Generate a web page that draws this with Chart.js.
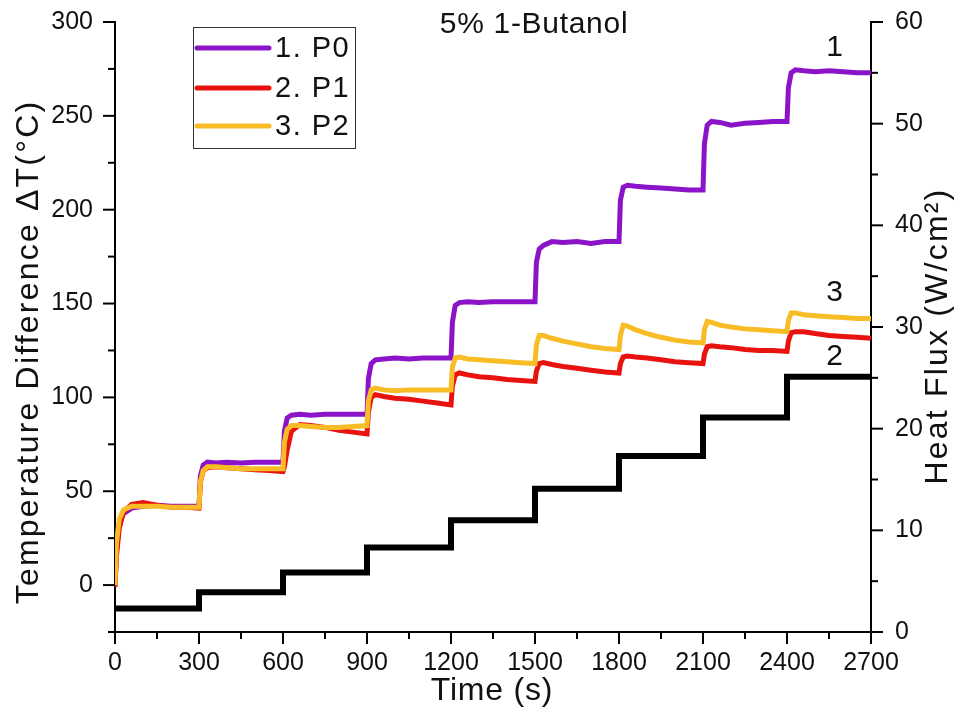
<!DOCTYPE html>
<html>
<head>
<meta charset="utf-8">
<script src="https://cdn.jsdelivr.net/npm/chart.js@4.4.1/dist/chart.umd.min.js"></script>
<style>
  html, body { margin: 0; padding: 0; background: #fff; }
  #chart { display: block; }
</style>
</head>
<body>
<canvas id="chart" width="961" height="724"></canvas>
<script>
// sample times (s) shared by the three temperature traces
const times = [
  0, 5, 15, 30, 60, 100, 150, 200, 250,
  300, 305, 315, 330, 360, 400, 450, 500, 550,
  600, 605, 615, 630, 660, 700, 750, 800, 850,
  900, 905, 915, 930, 960, 1000, 1050, 1100, 1150,
  1200, 1205, 1215, 1230, 1260, 1300, 1350, 1400, 1450,
  1500, 1505, 1515, 1530, 1560, 1600, 1650, 1700, 1750,
  1800, 1805, 1815, 1830, 1860, 1900, 1950, 2000, 2050,
  2100, 2105, 2115, 2130, 2160, 2200, 2250, 2300, 2350,
  2400, 2405, 2415, 2430, 2460, 2500, 2550, 2600, 2650,
  2700
]

// temperature difference, deg C
const p0 = [
  0, 18, 32, 38, 41, 42, 42.5, 42, 42,
  42, 58, 64, 65.5, 65, 65.5, 65, 65.5, 65.5,
  65.5, 82, 89, 90.5, 91, 90.5, 91, 91, 91,
  91, 110, 118, 120, 120.5, 121, 120.5, 121, 121,
  121, 140, 149, 150.5, 151, 150.5, 151, 151, 151,
  151, 172, 179, 181, 183, 182.5, 183, 182, 183,
  183, 205, 212, 213, 212.5, 212, 211.5, 211, 210.5,
  210.5, 235, 245, 247, 246.5, 245, 246, 246.5, 247,
  247, 265, 273, 274.5, 274, 273.5, 274, 273.5, 273,
  273
]
const p1 = [
  -1, 15, 30, 39, 43, 44, 42.5, 41.5, 41.5,
  41, 55, 61, 62.5, 63, 62.5, 62, 61.5, 61,
  60.5, 63, 72, 82, 85.5, 85, 84, 82.5, 81.5,
  80.5, 92, 100, 101.5, 100.5, 99.5, 99, 98, 97,
  96, 106, 112, 113, 112, 111, 110.5, 109.5, 109,
  108.5, 114, 118, 118.5, 117.5, 116.5, 115.5, 114.5, 113.5,
  113, 118, 121.5, 122, 121.5, 121, 120, 119, 118.5,
  118, 123, 127, 127.5, 127, 126.5, 125.5, 125, 125,
  124.5, 130, 134.5, 135, 135, 134, 133, 132.5, 132,
  131.5
]
const p2 = [
  0, 22, 35, 40, 42, 42, 42, 41.5, 41.5,
  41.5, 55, 61, 63, 63, 62.5, 62, 62, 62,
  62, 76, 83, 85, 85, 84.5, 84, 84, 84.5,
  85, 98, 104, 105, 104, 103.5, 104, 104, 104,
  104, 116, 121, 121.5, 120.5, 120, 119.5, 119, 118.5,
  118, 128, 133, 133, 131.5, 130, 128.5, 127, 126,
  125.5, 133, 138.5, 138, 136, 134, 132, 130.5, 129.5,
  129, 136, 140.5, 140, 138.5, 137.5, 136.5, 136, 135.5,
  135, 141, 145, 145, 144, 143.5, 143, 142.5, 142,
  142
]

// applied heat flux, W/cm2, held for 300 s per step
const fluxTimes = [0, 300, 600, 900, 1200, 1500, 1800, 2100, 2400, 2700]
const fluxValues = [2.3, 3.9, 5.85, 8.3, 11.0, 14.1, 17.3, 21.1, 25.1, 25.1]

const seriesLabels = ["1. P0", "2. P1", "3. P2"]
const seriesColors = ["#8b14c9", "#e8130e", "#f7bc26"]

// curve numbers written next to the right end of each trace: [text, time, deltaT]
const curveTags = [["1", 2570, 286.5], ["3", 2570, 156], ["2", 2570, 121.5]]

const FONT = 'Arial, "Liberation Sans", sans-serif'
const toPoints = (xs, ys) => xs.map((x, i) => ({ x: x, y: ys[i] }))

// outward tick marks, long on labelled values
const tickMarks = {
  id: 'tickMarks',
  afterDraw(chart) {
    const ctx = chart.ctx
    const { x, y, y1 } = chart.scales
    ctx.save()
    ctx.strokeStyle = '#000'
    ctx.lineWidth = 2
    const seg = (a, b, c, d) => { ctx.beginPath(); ctx.moveTo(a, b); ctx.lineTo(c, d); ctx.stroke() }
    x.ticks.forEach(t => {
      const px = x.getPixelForValue(t.value)
      seg(px, x.top, px, x.top + (t.value % 300 === 0 ? 12 : 7))
    })
    y.ticks.forEach(t => {
      const py = y.getPixelForValue(t.value)
      seg(y.right, py, y.right - (t.value % 50 === 0 ? 12 : 7), py)
    })
    y1.ticks.forEach(t => {
      const py = y1.getPixelForValue(t.value)
      seg(y1.left, py, y1.left + (t.value % 10 === 0 ? 12 : 7), py)
    })
    ctx.restore()
  }
}

// title, axis titles, curve numbers and the boxed legend
const textLayer = {
  id: 'textLayer',
  afterDraw(chart) {
    const ctx = chart.ctx
    const { x, y } = chart.scales
    ctx.save()
    ctx.fillStyle = '#111'
    ctx.textAlign = 'center'
    ctx.textBaseline = 'middle'

    ctx.font = '30px ' + FONT
    ctx.letterSpacing = '0.7px'
    ctx.fillText('5% 1-Butanol', 534, 25)

    ctx.font = '32px ' + FONT
    ctx.letterSpacing = '0.8px'
    ctx.fillText('Time (s)', 492, 691)

    ctx.letterSpacing = '2.2px'
    ctx.save()
    ctx.translate(29, 352)
    ctx.rotate(-Math.PI / 2)
    ctx.fillText('Temperature Difference ΔT(°C)', 0, 0)
    ctx.restore()

    ctx.save()
    ctx.translate(938, 336)
    ctx.rotate(-Math.PI / 2)
    ctx.fillText('Heat Flux (W/cm²)', 0, 0)
    ctx.restore()

    ctx.letterSpacing = '0px'
    ctx.font = '30px ' + FONT
    curveTags.forEach(([txt, t, v]) => {
      ctx.fillText(txt, x.getPixelForValue(t), y.getPixelForValue(v))
    })

    // legend box
    ctx.strokeStyle = '#333'
    ctx.lineWidth = 1
    ctx.strokeRect(193.5, 27.5, 162, 121)
    ctx.textAlign = 'left'
    ctx.font = '29px ' + FONT
    ctx.letterSpacing = '1.5px'
    const rows = [48, 88, 126]
    seriesLabels.forEach((lab, i) => {
      ctx.strokeStyle = seriesColors[i]
      ctx.lineWidth = 5
      ctx.lineCap = 'round'
      ctx.beginPath()
      ctx.moveTo(197, rows[i])
      ctx.lineTo(269, rows[i])
      ctx.stroke()
      ctx.fillText(lab, 275, rows[i] + 1)
    })
    ctx.restore()
  }
}

const tickFont = { family: FONT, size: 25 }
const noPad = s => { s.paddingTop = 0; s.paddingBottom = 0 }

new Chart(document.getElementById('chart'), {
  type: 'line',
  data: {
    datasets: [
      { label: seriesLabels[0], data: toPoints(times, p0), borderColor: seriesColors[0], borderWidth: 5, pointRadius: 0, yAxisID: 'y', order: 2 },
      { label: seriesLabels[1], data: toPoints(times, p1), borderColor: seriesColors[1], borderWidth: 5, pointRadius: 0, yAxisID: 'y', order: 1 },
      { label: seriesLabels[2], data: toPoints(times, p2), borderColor: seriesColors[2], borderWidth: 5, pointRadius: 0, yAxisID: 'y', order: 0 },
      { label: 'Heat Flux', data: toPoints(fluxTimes, fluxValues), borderColor: '#000', borderWidth: 6, pointRadius: 0, stepped: true, yAxisID: 'y1', order: 3 }
    ]
  },
  options: {
    responsive: false,
    animation: false,
    devicePixelRatio: 1,
    layout: { padding: { top: 22, left: 0, right: 0, bottom: 0 } },
    plugins: { legend: { display: false }, tooltip: { enabled: false } },
    scales: {
      x: {
        type: 'linear', min: 0, max: 2700,
        grid: { display: false },
        border: { display: true, color: '#000', width: 2 },
        ticks: {
          stepSize: 150, autoSkip: false, maxRotation: 0, padding: 8,
          color: '#111', font: tickFont,
          callback: v => v % 300 === 0 ? v : ''
        },
        afterFit: s => { s.height = 92; s.paddingLeft = 0; s.paddingRight = 0 }
      },
      y: {
        position: 'left', min: -25, max: 300,
        grid: { display: false },
        border: { display: true, color: '#000', width: 2 },
        ticks: {
          stepSize: 25, autoSkip: false, padding: 14,
          color: '#111', font: tickFont,
          callback: v => v % 50 === 0 ? v : ''
        },
        afterFit: s => { s.width = 115; noPad(s) }
      },
      y1: {
        position: 'right', min: 0, max: 60,
        grid: { display: false },
        border: { display: true, color: '#000', width: 2 },
        ticks: {
          stepSize: 5, autoSkip: false, padding: 16,
          color: '#111', font: tickFont,
          callback: v => v % 10 === 0 ? v : ''
        },
        afterFit: s => { s.width = 90; noPad(s) }
      }
    }
  },
  plugins: [tickMarks, textLayer]
})
</script>
</body>
</html>
